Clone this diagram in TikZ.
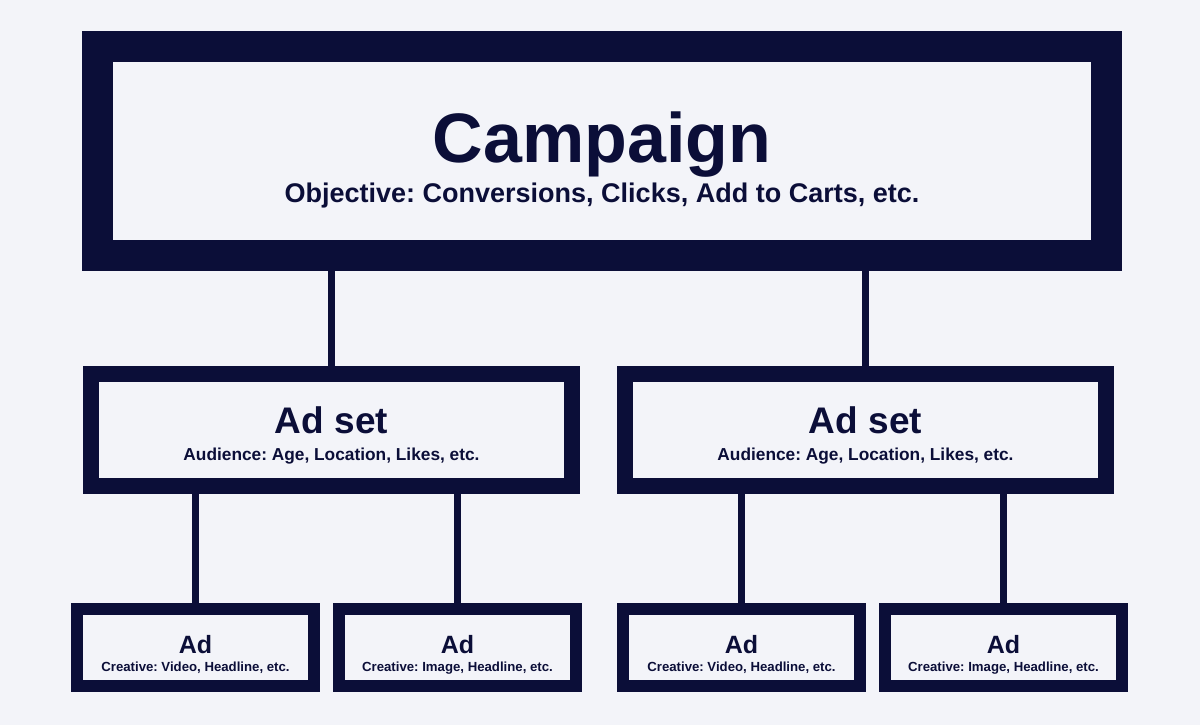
\documentclass[tikz,border=0pt]{standalone}
\usepackage{fontspec}
\setmainfont{Liberation Sans}
\usetikzlibrary{positioning}
\definecolor{navy}{HTML}{0B0E38}
\definecolor{paper}{HTML}{F3F4F9}
\frenchspacing

\begin{document}
\begin{tikzpicture}[x=1pt, y=-1pt]
    \tikzset{
        box/.style     = {draw = navy, fill = paper, text = navy, align = center, inner sep = 0pt},
        campbox/.style = {box, line width = 31pt, minimum width = 1009pt, minimum height = 209pt, font = \bfseries\fontsize{10}{40}\selectfont},
        setbox/.style  = {box, line width = 16pt, minimum width = 481pt, minimum height = 112pt, font = \bfseries\fontsize{10}{27}\selectfont},
        adbox/.style   = {box, line width = 12pt, minimum width = 237pt, minimum height = 77pt, font = \bfseries\fontsize{8}{18}\selectfont},
        link/.style    = {draw = navy, line width = 7pt}
    }

    \fill[paper] (0,0) rectangle (1200,725);
    \useasboundingbox (0,0) rectangle (1200,725);

    % Campaign level
    \node[campbox] (Camp) at (602,151) {{\fontsize{70}{70}\selectfont\rule{0pt}{70pt}Campaign}\\{\fontsize{27}{27}\selectfont Objective: Conversions, Clicks, Add to Carts, etc.\rule[-8pt]{0pt}{8pt}}};

    % Ad set level
    \node[setbox] (SetL) at (331.5,430) {{\fontsize{37}{37}\selectfont\rule{0pt}{38pt}Ad set}\\{\fontsize{17.3}{17.3}\selectfont Audience: Age, Location, Likes, etc.\rule[-5pt]{0pt}{5pt}}};
    \node[setbox] (SetR) at (865.5,430) {{\fontsize{37}{37}\selectfont\rule{0pt}{38pt}Ad set}\\{\fontsize{17.3}{17.3}\selectfont Audience: Age, Location, Likes, etc.\rule[-5pt]{0pt}{5pt}}};

    % Ad level
    \node[adbox] (AdA) at (195.5,647.5)  {{\fontsize{25}{25}\selectfont\rule{0pt}{33pt}Ad}\\{\fontsize{13.2}{13.2}\selectfont Creative: Video, Headline, etc.\rule[-4pt]{0pt}{4pt}}};
    \node[adbox] (AdB) at (457.5,647.5)  {{\fontsize{25}{25}\selectfont\rule{0pt}{33pt}Ad}\\{\fontsize{13.2}{13.2}\selectfont Creative: Image, Headline, etc.\rule[-4pt]{0pt}{4pt}}};
    \node[adbox] (AdC) at (741.5,647.5)  {{\fontsize{25}{25}\selectfont\rule{0pt}{33pt}Ad}\\{\fontsize{13.2}{13.2}\selectfont Creative: Video, Headline, etc.\rule[-4pt]{0pt}{4pt}}};
    \node[adbox] (AdD) at (1003.5,647.5) {{\fontsize{25}{25}\selectfont\rule{0pt}{33pt}Ad}\\{\fontsize{13.2}{13.2}\selectfont Creative: Image, Headline, etc.\rule[-4pt]{0pt}{4pt}}};

    % connectors
    \draw[link] (SetL.north) -- (SetL.north |- Camp.south);
    \draw[link] (SetR.north) -- (SetR.north |- Camp.south);
    \draw[link] (AdA.north) -- (AdA.north |- SetL.south);
    \draw[link] (AdB.north) -- (AdB.north |- SetL.south);
    \draw[link] (AdC.north) -- (AdC.north |- SetR.south);
    \draw[link] (AdD.north) -- (AdD.north |- SetR.south);
\end{tikzpicture}
\end{document}
